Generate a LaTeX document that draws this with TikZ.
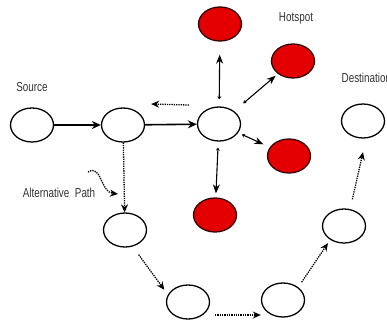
\documentclass[tikz,border=0pt]{standalone}
\usepackage{fontspec}
\setmainfont{Liberation Sans}[FakeStretch=0.76]
\usetikzlibrary{shapes.geometric,arrows.meta}
\definecolor{hotred}{RGB}{228,0,0}

\begin{document}
\begin{tikzpicture}[x=1pt, y=-1pt]
    \tikzstyle{every node} = [ellipse, draw, line width=1.3pt, minimum width=43pt, minimum height=34pt, inner sep=0pt]
    \tikzstyle{hot} = [fill=hotred, draw=black!80!red]
    \tikzstyle{lbl} = [draw=none, rectangle, minimum size=0pt, inner sep=0pt, text=black!80, font=\fontsize{13}{13}\selectfont]
    \tikzstyle{solidarrow} = [line width=1.6pt, -{Stealth[length=9pt,width=8pt]}]
    \tikzstyle{dotarrow} = [line width=1.3pt, densely dotted, -{Stealth[length=8pt,width=7pt]}]
    \tikzstyle{hotarrow} = [line width=1.1pt, {Stealth[length=3pt,width=4pt]}-{Stealth[length=9pt,width=7pt]}]

    \useasboundingbox (0,0) rectangle (387,324);
    \clip (0,0) rectangle (387,324);

    \node (src) at (32, 125) {};
    \node (n2) at (123, 125) {};
    \node (hub) at (219, 124) {};

    \node (h1) at (220, 24) [hot] {};
    \node (h2) at (293, 61) [hot] {};
    \node (h3) at (289, 156) [hot] {};
    \node (h4) at (215, 215) [hot] {};

    \node (dst) at (363, 121) {};
    \node (r1) at (344, 226) {};
    \node (b2) at (283, 300) {};
    \node (b1) at (188, 302) {};
    \node (alt) at (125, 230) {};

    \node (lsrc) at (32, 87) [lbl] {Source};
    \node (lhot) at (296, 18) [lbl] {Hotspot};
    \node (ldst) at (341, 78) [lbl, anchor=west] {Destination};
    \node (lalt) at (59, 193) [lbl] {Alternative\ \ Path};
    \coordinate (altsrc) at (88, 172);

    \draw [solidarrow] (src) -- (n2);
    \draw [solidarrow] (n2) -- (hub);
    \draw [dotarrow] ([xshift=-8pt,yshift=19pt]hub.west) -- ([xshift=6pt,yshift=21pt]n2.east);

    \draw [hotarrow, shorten <=7pt, shorten >=13pt] (hub) -- (h1);
    \draw [hotarrow, shorten <=12pt, shorten >=3pt] (hub) -- (h2);
    \draw [hotarrow, shorten <=4pt, shorten >=7pt] (hub) -- (h3);
    \draw [hotarrow, shorten <=6pt, shorten >=4pt] (hub) -- (h4);

    \draw [dotarrow] (n2) -- (alt);
    \draw [dotarrow] (altsrc) .. controls (102, 164) and (100, 192) .. (118, 194);
    \draw [dotarrow, shorten <=10pt, shorten >=6pt] (alt.-65) -- (b1.160);
    \draw [dotarrow, shorten <=5pt] ([yshift=-13pt]b1.east) -- ([yshift=-15pt]b2.west);
    \draw [dotarrow, shorten <=6pt, shorten >=4pt] (b2.40) -- (r1.225);
    \draw [dotarrow, shorten <=10pt, shorten >=14pt] (r1.70) -- (dst.-80);
\end{tikzpicture}
\end{document}
